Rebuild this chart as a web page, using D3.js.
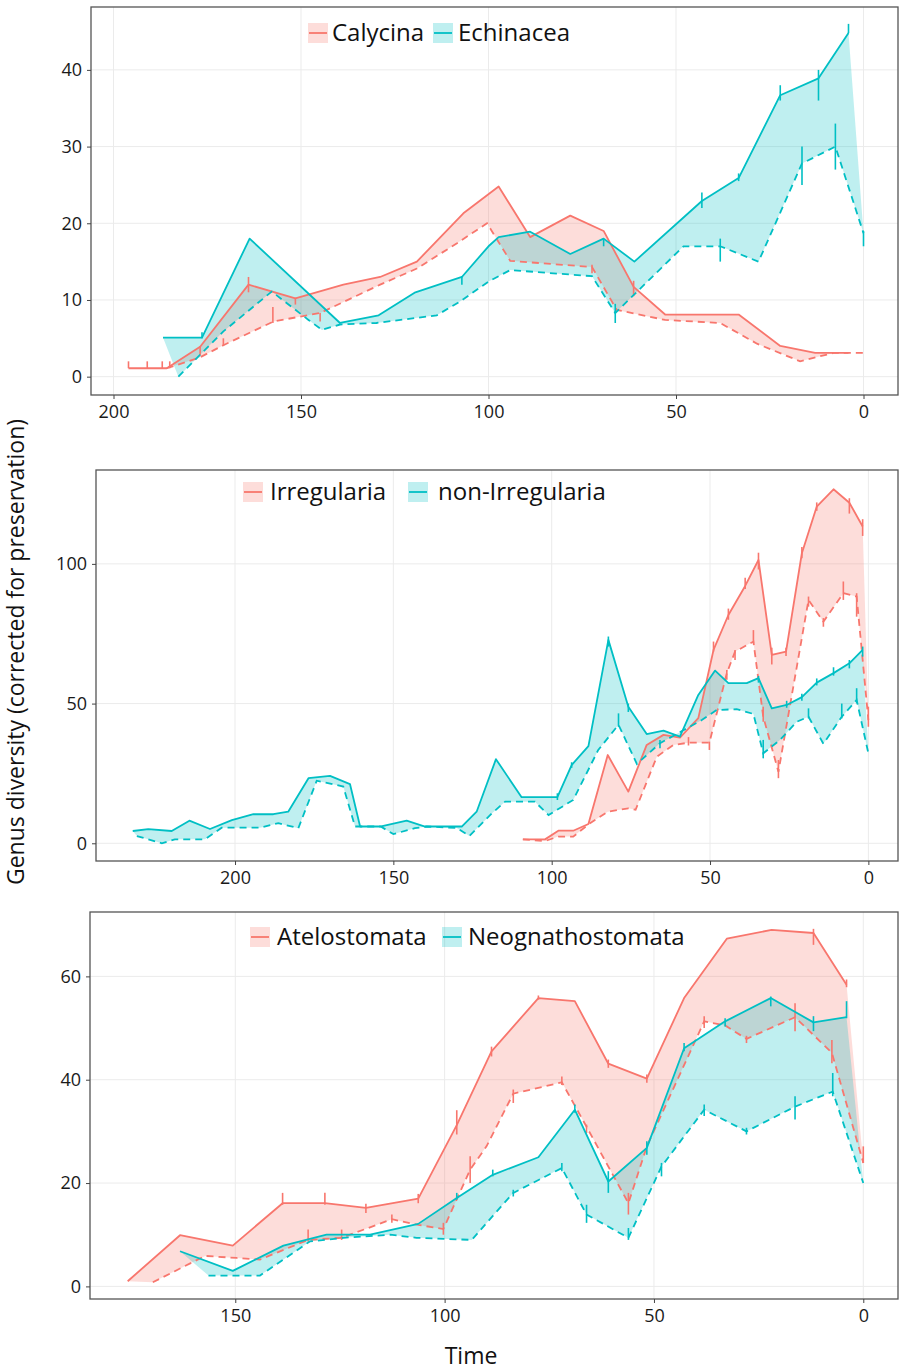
<!DOCTYPE html>
<html><head><meta charset="utf-8">
<script src="https://cdn.jsdelivr.net/npm/d3@7"></script>
<style>
body{margin:0;background:#fff;}
svg text{font-family:"Open Sans",sans-serif;}
</style></head>
<body><svg id="c" width="899" height="1371"></svg>
<script>
// ---------- DATA (time in Ma, diversity) ----------
// Panel 1
const calycinaUpper = [[196,1.1],[185.8,1.1],[176.9,3.9],[164,12],[151.5,10.2],[138.7,12],[128.9,13],[119.1,15],[106.7,21.3],[97.3,24.8],[88.9,18.2],[78.2,21],[69.3,19],[61.3,11.7],[52.9,8.1],[33.3,8.1],[22.2,4],[12.9,3.1],[4,3.1]];
const calycinaLower = [[185.8,1.1],[177,2.5],[170.7,4.1],[157.3,7.2],[144.9,8.3],[128.9,12],[119.1,14.1],[108.4,17.4],[100.4,20],[94.2,15.1],[72.4,14.3],[65.8,8.7],[52.9,7.4],[38.2,7],[28.4,4.3],[16.9,2],[8,3.1],[0,3.1]];
const calycinaErr = [[196,1.1,2],[191,1.1,2],[187,1.1,2],[185,1.1,2],[176.9,2.8,4],[170.7,4,5],[164,11,13],[157.5,7,9.1],[151.5,9.4,10.3],[144.9,7.2,8.3],[72.4,13.5,14.6],[61.3,10.5,12.5]];
const echinaceaUpper = [[186.8,5.1],[176.4,5.1],[163.7,18],[139.6,7],[129.3,8],[119.5,11],[107.1,13],[100,17],[97.3,18.2],[88.9,18.9],[78.2,16],[69.3,18],[61.1,15],[43.1,22.9],[33.3,25.9],[22.2,36.7],[12,38.9],[4,44.8]];
const echinaceaLower = [[182.7,0],[170.7,5.9],[157.8,11.1],[148,7.4],[144.4,6.1],[139.6,6.8],[129.9,7],[113.8,8],[107.6,9.8],[100,12.4],[94.2,13.9],[72.4,13.1],[66.2,8.3],[48,17],[38.2,17],[28,15],[16.4,27.8],[7.5,30],[0,18.7]];
const echinaceaErr = [[176.4,5,5.8],[107.1,12,13],[69.3,17,18],[66.2,7,9.5],[43.1,22,24],[38.2,15,18],[33.3,25.5,26.5],[22.2,36,38],[16.4,25,30],[12,36,40],[7.5,27,33],[4,44.8,46],[0,17,19]];
// Panel 2
const irregUpper = [[109.1,1.4],[102.1,1.4],[97.9,4.5],[93.2,4.5],[88.4,6.9],[82.3,31.6],[75.8,18.5],[70,35.2],[64.7,38.8],[59.5,37.8],[53.7,44.8],[48.9,69.2],[44.2,81.7],[38.9,92.1],[34.7,101.4],[30.5,67.4],[26,68.6],[21,103.8],[16.3,120.5],[11,126.7],[6,121.9],[1.8,113.4]];
const irregLower = [[109.1,1.4],[102.1,0.8],[97.9,2.4],[93.2,2.4],[87.9,7.2],[82.3,11.3],[75.8,12.5],[73.5,12],[66.8,31],[61.6,35.2],[56.8,36],[50.2,36],[44.7,60.9],[42.1,68.6],[36.3,72.2],[33.2,45.3],[28.4,25.6],[18.9,87.1],[14.2,79.3],[7.9,89.5],[3.7,88.3],[0,44.1]];
const irregErr = [[48.9,68.6,72.2],[44.2,80,84],[38.9,91,95],[34.7,98,104],[30.5,64,70],[26,67,70],[21,102,106],[16.3,119,122],[6,118,123.5],[1.8,110,116],[50.2,33.4,36.4],[44.7,58.5,62],[42.1,65.6,69.2],[36.3,71.6,76.3],[33.2,43.5,48.9],[28.4,23.3,29.8],[18.9,84.7,88.3],[14.2,77.5,80.6],[7.9,87.1,93.7],[3.7,81.1,89.5],[0,41.7,48.9],[56.8,35,38]];
const nonIrregUpper = [[232.3,4.4],[227.4,5.1],[220,4.4],[214.4,8.1],[207.9,5.1],[201,8.3],[194.2,10.4],[187.9,10.4],[183.2,11.3],[176.8,23.3],[170,24.1],[163.7,21.2],[160.5,6],[154.2,6],[145.8,8.1],[140,6],[128.4,6],[123.7,11.3],[117.6,30.1],[109.5,16.5],[98.2,16.5],[93.7,28],[88.4,34.8],[82.1,72.8],[75.8,48.9],[70,39.1],[64.7,40.3],[59.5,38.2],[53.7,53.1],[48.4,61.8],[44.2,57.3],[38.4,57.3],[34.7,59.1],[30.5,48.3],[25.8,49.5],[21,52.3],[16.3,57.5],[11,60.9],[6,64.4],[1.8,69.2]];
const nonIrregLower = [[231,2.6],[223.1,0],[219,1.4],[209.5,1.4],[204.2,5.6],[192.1,5.6],[186.3,7.2],[180,5.4],[174.2,22.4],[165.8,20.3],[162.1,6],[154,6],[150,3.3],[143.2,5.4],[139.5,6],[130,5.5],[126,2.6],[118.9,10.7],[114.7,14.9],[105.3,14.9],[101,10.1],[93.2,15.5],[85.3,33.4],[78.9,42.4],[73.1,28.4],[65.8,35.8],[52.6,44.1],[47.9,47.7],[41.6,48],[36.3,46.3],[33.2,32.2],[27.9,37],[22.6,43.5],[18.9,45.3],[14.2,35.6],[8.4,45.3],[3.7,51.3],[0,32.2]];
const nonIrregErr = [[98.2,15.5,17.9],[93.7,27,29],[82.1,70.4,74],[78.9,41.7,46.5],[75.8,47,50],[65.8,34,37],[34.7,57.5,59.9],[33.2,30.4,37],[25.8,48.5,51],[21,51,53.5],[18.9,44.7,48.3],[16.3,56.5,59],[11,60,63],[8.4,44.7,50],[6,62.6,65.6],[3.7,50.1,55.5],[1.8,66.8,70.4]];
// Panel 3
const atelUpper = [[175.7,1],[163.2,9.9],[150.6,7.9],[138.7,16.1],[128.6,16.1],[118.8,15.2],[106.3,17],[97.1,31.2],[88.8,45.5],[77.6,55.8],[68.9,55.2],[60.9,43.1],[51.7,40.2],[42.8,55.8],[32.6,67.3],[21.9,69],[11.9,68.4],[4,58.4]];
const atelLower = [[169.7,0.8],[157.2,5.9],[149.7,5.5],[144.1,5.2],[132.6,9],[124.6,9.4],[112.6,13],[106.3,11.9],[100.3,11.1],[93.9,22.6],[90,27.1],[83.6,37.3],[72,39.5],[66.1,30.9],[56.1,16.1],[51.7,27.1],[38,51.3],[33,50.5],[27.9,47.9],[16.3,52.1],[7.5,45.2],[0,23.9]];
const atelErr = [[138.7,15.8,18.1],[128.6,15.8,18.1],[118.8,14.2,16],[106.3,16.1,17.9],[97.1,29.4,34.1],[88.8,44.5,46.4],[77.6,55.5,56.3],[60.9,42.3,43.9],[51.7,39.4,41],[11.9,66.1,69.2],[4,57.9,59.4],[132.6,8.7,11],[124.6,9,11],[112.6,12.3,13.9],[100.3,10,12.3],[93.9,20,25.2],[83.6,35.5,38.1],[72,39,40.6],[66.1,29.7,31.3],[56.1,13.9,18.1],[38,50,52.3],[27.9,47.1,48.5],[16.3,49.4,54.8],[7.5,43.2,47.7],[0,23.9,27.1]];
const neoUpper = [[163.2,6.8],[150.6,3],[138.5,7.9],[128.2,10],[117.8,10],[106.3,12.1],[97.1,17.1],[88.5,21.6],[77.6,25],[68.9,34.2],[60.9,20.3],[51.7,26.8],[42.8,46.1],[33,51.3],[22.1,55.8],[11.9,51.1],[4,52.1]];
const neoLower = [[156.4,2.1],[144.1,2.1],[132.2,8.7],[124.2,9.4],[113,10],[106.7,9.4],[93.5,9],[86.8,15.2],[83.6,18.1],[72,22.9],[66.1,13.9],[56.1,9.4],[48.2,23.2],[38,34.2],[27.9,30],[16.3,34.8],[7.3,37.7],[0,20]];
const neoErr = [[97.1,16.8,18.1],[88.5,21.3,22.6],[68.9,33.6,35.2],[60.9,18.1,22.3],[51.7,25.5,28.1],[42.8,45.5,47.1],[33,50.3,51.9],[22.1,54.2,56.1],[11.9,49.4,52.3],[4,51.9,55.2],[83.6,17.4,18.7],[72,22.3,23.9],[66.1,12.3,15.8],[56.1,9,11.3],[48.2,21.3,23.9],[38,33,35.2],[27.9,29.4,30.7],[16.3,32.3,36.8],[7.3,36.8,41.3]];

const xTicks1 = [200,150,100,50,0], yTicks1 = [0,10,20,30,40];
const xTicks2 = [200,150,100,50,0], yTicks2 = [0,50,100];
const xTicks3 = [150,100,50,0],     yTicks3 = [0,20,40,60];
const legend1 = ["Calycina","Echinacea"];
const legend2 = ["Irregularia","non-Irregularia"];
const legend3 = ["Atelostomata","Neognathostomata"];

// ---------- DRAWING ----------
const RED = "#F8766D", TEAL = "#00BFC4";
const svg = d3.select("#c");

function panel(o){
  const x = d3.scaleLinear().domain(o.xd).range([o.l, o.r]);
  const y = d3.scaleLinear().domain(o.yd).range([o.b, o.t]);
  const g = svg.append("g");
  const clipId = "clip"+o.id;
  svg.append("clipPath").attr("id",clipId).append("rect")
    .attr("x",o.l).attr("y",o.t).attr("width",o.r-o.l).attr("height",o.b-o.t);
  g.selectAll(".gx").data(o.xt).enter().append("line")
    .attr("x1",d=>x(d)).attr("x2",d=>x(d)).attr("y1",o.t).attr("y2",o.b)
    .attr("stroke","#EBEBEB").attr("stroke-width",1);
  g.selectAll(".gy").data(o.yt).enter().append("line")
    .attr("y1",d=>y(d)).attr("y2",d=>y(d)).attr("x1",o.l).attr("x2",o.r)
    .attr("stroke","#EBEBEB").attr("stroke-width",1);
  const pg = g.append("g").attr("clip-path","url(#"+clipId+")");
  const line = d3.line().x(d=>x(d[0])).y(d=>y(d[1]));
  o.series.forEach(s=>{
    const poly = s.up.concat(s.lo.slice().reverse());
    pg.append("path").attr("d", line(poly)+"Z")
      .attr("fill", s.col).attr("fill-opacity",0.25).attr("stroke","none");
  });
  o.series.forEach(s=>{
    pg.append("path").attr("d",line(s.up)).attr("fill","none")
      .attr("stroke",s.col).attr("stroke-width",1.8).attr("stroke-linejoin","round");
    pg.append("path").attr("d",line(s.lo)).attr("fill","none")
      .attr("stroke",s.col).attr("stroke-width",1.8).attr("stroke-dasharray","7,5");
    pg.selectAll(null).data(s.err).enter().append("line")
      .attr("x1",d=>x(d[0])).attr("x2",d=>x(d[0]))
      .attr("y1",d=>y(d[1])).attr("y2",d=>y(d[2]))
      .attr("stroke",s.col).attr("stroke-width",1.6);
  });
  g.append("rect").attr("x",o.l).attr("y",o.t).attr("width",o.r-o.l).attr("height",o.b-o.t)
    .attr("fill","none").attr("stroke","#555").attr("stroke-width",1.3);
  const ax = g.append("g").attr("transform","translate(0,"+o.b+")")
    .call(d3.axisBottom(x).tickValues(o.xt).tickSize(4).tickPadding(6).tickFormat(d3.format("d")));
  const ay = g.append("g").attr("transform","translate("+o.l+",0)")
    .call(d3.axisLeft(y).tickValues(o.yt).tickSize(4).tickPadding(5).tickFormat(d3.format("d")));
  [ax,ay].forEach(a=>{
    a.select(".domain").remove();
    a.selectAll(".tick line").attr("stroke","#444");
    a.selectAll("text").attr("font-size",18).attr("fill","#1a1a1a")
      .style("font-family","'Open Sans',sans-serif");
  });
  o.leg.forEach((name,i)=>{
    const s = o.series[i], kx = o.lx[i], ky = o.ly;
    g.append("rect").attr("x",kx).attr("y",ky-10).attr("width",20).attr("height",20)
      .attr("fill",s.col).attr("fill-opacity",0.25);
    g.append("line").attr("x1",kx+1).attr("x2",kx+19).attr("y1",ky).attr("y2",ky)
      .attr("stroke",s.col).attr("stroke-width",1.8);
    g.append("text").attr("x",o.tx[i]).attr("y",ky).attr("dy","0.35em")
      .attr("font-size",24).attr("fill","#111").text(name);
  });
}

panel({id:1,l:91,r:898,t:7,b:395,xd:[206,-9.2],yd:[-2.39,48.2],xt:xTicks1,yt:yTicks1,
  series:[{up:calycinaUpper,lo:calycinaLower,err:calycinaErr,col:RED},
          {up:echinaceaUpper,lo:echinaceaLower,err:echinaceaErr,col:TEAL}],
  leg:legend1,lx:[308,433],tx:[332,458],ly:33});
panel({id:2,l:96,r:898,t:470,b:861,xd:[243.9,-9.36],yd:[-6.34,133.6],xt:xTicks2,yt:yTicks2,
  series:[{up:irregUpper,lo:irregLower,err:irregErr,col:RED},
          {up:nonIrregUpper,lo:nonIrregLower,err:nonIrregErr,col:TEAL}],
  leg:legend2,lx:[243,408],tx:[270,438],ly:492});
panel({id:3,l:90,r:898,t:912,b:1299,xd:[184.7,-8.29],yd:[-2.44,72.46],xt:xTicks3,yt:yTicks3,
  series:[{up:atelUpper,lo:atelLower,err:atelErr,col:RED},
          {up:neoUpper,lo:neoLower,err:neoErr,col:TEAL}],
  leg:legend3,lx:[250,442],tx:[277,468],ly:937});

svg.append("text").attr("transform","translate(24,652) rotate(-90)")
  .attr("text-anchor","middle").attr("font-size",23).attr("fill","#111")
  .text("Genus diversity (corrected for preservation)");
svg.append("text").attr("x",471).attr("y",1364).attr("text-anchor","middle")
  .attr("font-size",23).attr("fill","#111").text("Time");
</script></body></html>
